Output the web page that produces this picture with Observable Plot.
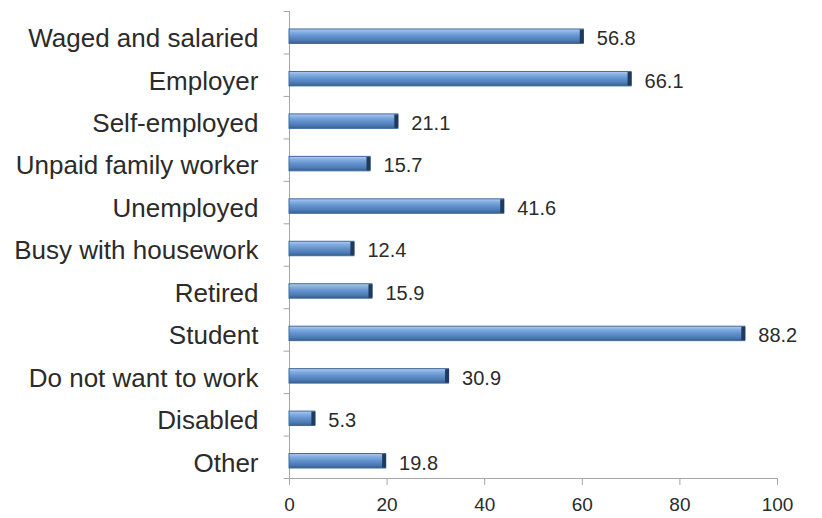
<!DOCTYPE html>
<html>
<head>
<meta charset="utf-8">
<script src="https://cdn.jsdelivr.net/npm/d3@7"></script>
<script src="https://cdn.jsdelivr.net/npm/@observablehq/plot@0.6"></script>
<style>
  html, body { margin: 0; padding: 0; background: #ffffff; }
</style>
</head>
<body>
<div id="chart"></div>
<script>
// Categories, top to bottom
const categories = [
  "Waged and salaried",
  "Employer",
  "Self-employed",
  "Unpaid family worker",
  "Unemployed",
  "Busy with housework",
  "Retired",
  "Student",
  "Do not want to work",
  "Disabled",
  "Other"
];
// Values as labelled in the chart
const values = [56.8, 66.1, 21.1, 15.7, 41.6, 12.4, 15.9, 88.2, 30.9, 5.3, 19.8];
// Bar lengths as drawn in the reference (read against the x axis)
const barLengths = [60.3, 70.1, 22.3, 16.6, 44.0, 13.3, 17.0, 93.4, 32.7, 5.3, 19.8];
// X axis ticks
const xTicks = [0, 20, 40, 60, 80, 100];

const data = categories.map((c, i) => ({cat: c, value: values[i], bar: barLengths[i]}));

const axisGray = "#a6a6a6";
const textColor = "#2b2b2b";

const chart = Plot.plot({
  width: 822,
  height: 518,
  marginLeft: 289,
  marginRight: 45,
  marginTop: 11,
  marginBottom: 40,
  style: {fontFamily: "'Liberation Sans', Arial, Helvetica, sans-serif", color: textColor, background: "#ffffff"},
  x: {domain: [0, 100]},
  y: {domain: categories, padding: 0, round: false},
  marks: [
    Plot.frame({anchor: "left", stroke: axisGray}),
    Plot.frame({anchor: "bottom", stroke: axisGray}),
    // band boundary ticks on the y axis
    Plot.ruleY(categories, {y: d => d, x1: -1.1, x2: 0, dy: -21.2, stroke: axisGray, clip: false}),
    Plot.ruleY(categories.slice(-1), {y: d => d, x1: -1.1, x2: 0, dy: 21.2, stroke: axisGray, clip: false}),
    Plot.axisX({ticks: xTicks, tickSize: 7, tickPadding: 12, fontSize: 19, stroke: axisGray, fill: textColor, label: null}),
    Plot.axisY({tickSize: 0, tickPadding: 31, fontSize: 26, dy: 6, fill: textColor, label: null}),
    Plot.barX(data, {x: "bar", y: "cat", fill: "url(#barGrad)", stroke: "#3f6a9c", strokeWidth: 1, insetTop: 18, insetBottom: 10}),
    Plot.tickX(data, {x: "bar", y: "cat", stroke: "#1f3a5c", strokeWidth: 4, dx: -2, insetTop: 18.5, insetBottom: 10.5}),
    Plot.text(data, {x: "bar", y: "cat", text: d => d.value.toFixed(1), textAnchor: "start", dx: 13, dy: 6, fontSize: 20, fill: textColor})
  ]
});

const defs = d3.select(chart).insert("defs", ":first-child");
const grad = defs.append("linearGradient")
  .attr("id", "barGrad")
  .attr("x1", 0).attr("y1", 0).attr("x2", 0).attr("y2", 1);
[
  ["0%", "#b3cfee"],
  ["20%", "#86b0e2"],
  ["48%", "#6593cf"],
  ["78%", "#4d7bb3"],
  ["100%", "#365f90"]
].forEach(([o, c]) => grad.append("stop").attr("offset", o).attr("stop-color", c));

document.getElementById("chart").appendChild(chart);
</script>
</body>
</html>
